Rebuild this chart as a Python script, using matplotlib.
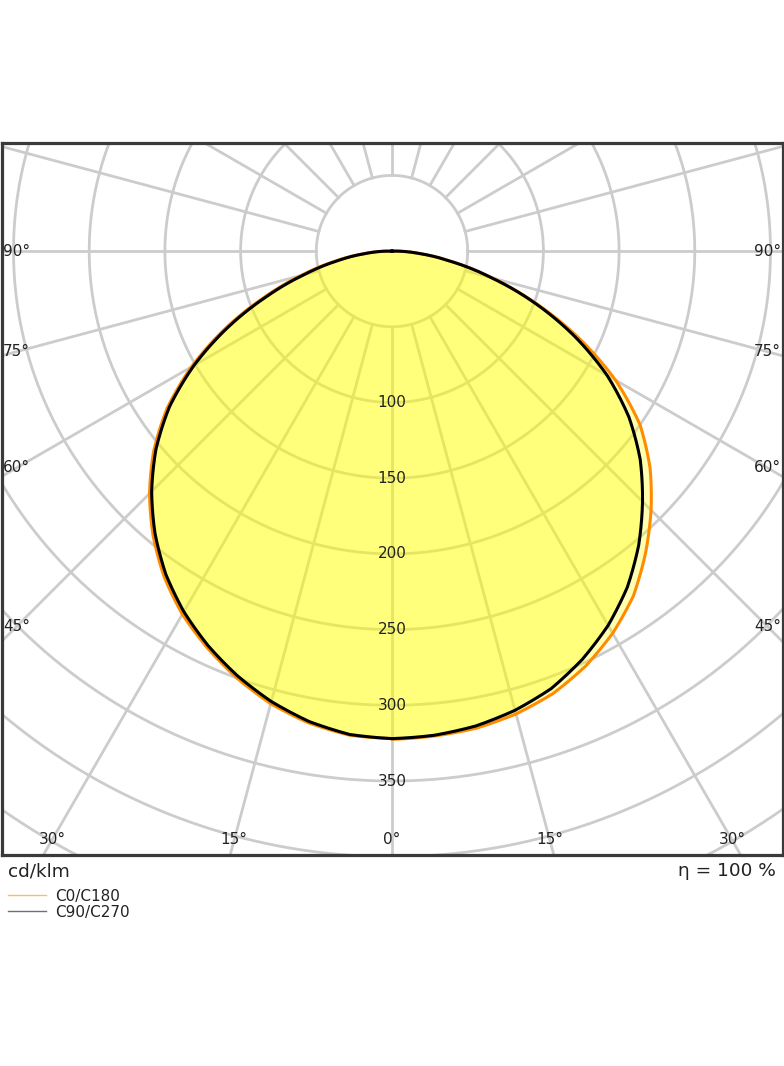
import numpy as np
import matplotlib.pyplot as plt
from matplotlib.lines import Line2D

# gamma angles (deg from nadir) and luminous intensity in cd/klm
gamma = [0, 5, 10, 15, 20, 25, 30, 35, 40, 45, 50, 55, 60, 65, 70, 75, 80, 85, 90]
c0 = [322.5, 321.5, 320, 316.5, 311, 302.5, 291.5, 278, 260.5, 242, 222.5, 200, 170.5, 136.5, 101.5, 68.5, 40, 18, 3]
c180 = [322, 321, 316.5, 309.5, 300, 289, 277, 262.5, 245.5, 226.5, 205.5, 181.5, 153, 122, 90.5, 62, 38, 18, 3]
c90 = [322, 321, 318.5, 314, 307.5, 297.5, 285.5, 271, 253.5, 234, 214, 191, 164, 133, 100.5, 68, 40, 18, 3]
c270 = [322, 320.5, 315.5, 308, 298.5, 287.5, 275, 260.5, 243.5, 224.5, 203.5, 179.5, 151, 120, 88.5, 60, 36.5, 17, 3]

circle_values = [50, 100, 150, 200, 250, 300, 350, 400, 450, 500]
circle_labels = [100, 150, 200, 250, 300, 350]
angle_labels = [0, 15, 30, 45, 60, 75, 90]
unit_text = 'cd/klm'
eta_text = 'η = 100 %'
legend_names = ['C0/C180', 'C90/C270']

W, H = 784, 1066
cx, cy = 392, 251.1      # pole position in pixels
scale = 1.514            # pixels per cd/klm
box_l, box_r, box_t, box_b = 1.5, 782.5, 143, 855

fig = plt.figure(figsize=(W / 100, H / 100), dpi=100)
ax = fig.add_axes([box_l / W, 1 - box_b / H, (box_r - box_l) / W, (box_b - box_t) / H])
ax.set_xlim((box_l - cx) / scale, (box_r - cx) / scale)
ax.set_ylim(-(box_b - cy) / scale, (cy - box_t) / scale)
ax.set_xticks([])
ax.set_yticks([])
for s in ax.spines.values():
    s.set_linewidth(2.3)
    s.set_color('#3a3a3a')
    s.set_zorder(10)

grid_col = '#cccccc'
t = np.linspace(0, 2 * np.pi, 600)
for r in circle_values:
    ax.plot(r * np.cos(t), r * np.sin(t), color=grid_col, lw=2, zorder=1)
for a in range(0, 360, 15):
    ang = np.radians(a)
    ax.plot([50 * np.sin(ang), 700 * np.sin(ang)], [-50 * np.cos(ang), -700 * np.cos(ang)],
            color=grid_col, lw=2, zorder=1)


def curve(right, left):
    # straight segments in (gamma, I) like a polar plot, so sample each segment finely
    g_fine = np.linspace(0, 90, 361)
    g = np.radians(g_fine)
    right = np.interp(g_fine, gamma, right)
    left = np.interp(g_fine, gamma, left)
    xr, yr = right * np.sin(g), -right * np.cos(g)
    xl, yl = -left * np.sin(g), -left * np.cos(g)
    x = np.concatenate([[0], xl[::-1], xr, [0]])
    y = np.concatenate([[0], yl[::-1], yr, [0]])
    return x, y


x_or, y_or = curve(c0, c180)
x_bk, y_bk = curve(c90, c270)
ax.fill(x_or, y_or, color='#ffff00', alpha=0.3, lw=0, zorder=2)
ax.fill(x_bk, y_bk, color='#ffff00', alpha=0.3, lw=0, zorder=2)
ax.plot(x_or, y_or, color='#ff8c00', lw=2.2, zorder=3, solid_joinstyle='round')
ax.plot(x_bk, y_bk, color='black', lw=2.2, zorder=4, solid_joinstyle='round')

txt_col = '#222222'
for r in circle_labels:
    ax.text(0, -r, str(r), ha='center', va='center', fontsize=11, color=txt_col, zorder=5)

# angle labels placed where each ray meets a rectangle inset 15 px from the frame
inset = 15 / scale
x0, x1 = ax.get_xlim()
y0, _ = ax.get_ylim()
xin = x1 - inset
yin = y0 + inset
for a in angle_labels:
    ang = np.radians(a)
    for side in ([1, -1] if a else [1]):
        dx, dy = side * np.sin(ang), -np.cos(ang)
        ts = []
        if abs(dx) > 1e-9:
            ts.append(xin / abs(dx))
        if abs(dy) > 1e-9:
            ts.append(yin / dy)
        tt = min(ts)
        ax.text(tt * dx, tt * dy, f'{a}°', ha='center', va='center', fontsize=11,
                color=txt_col, zorder=5, clip_on=True)

fig.text(8 / W, 1 - 876.5 / H, unit_text, ha='left', va='baseline', fontsize=13.3, color=txt_col)
fig.text(776 / W, 1 - 876 / H, eta_text, ha='right', va='baseline', fontsize=13.3, color=txt_col)

leg_cols = ['#ffb870', '#707070']
leg_y = [895, 911]
for name, col, yy in zip(legend_names, leg_cols, leg_y):
    fig.add_artist(Line2D([8 / W, 46 / W], [1 - yy / H, 1 - yy / H], color=col, lw=1.0))
    fig.text(55 / W, 1 - (yy + 5.5) / H, name, ha='left', va='baseline', fontsize=11, color=txt_col)

fig.savefig('out.png', dpi=100)
